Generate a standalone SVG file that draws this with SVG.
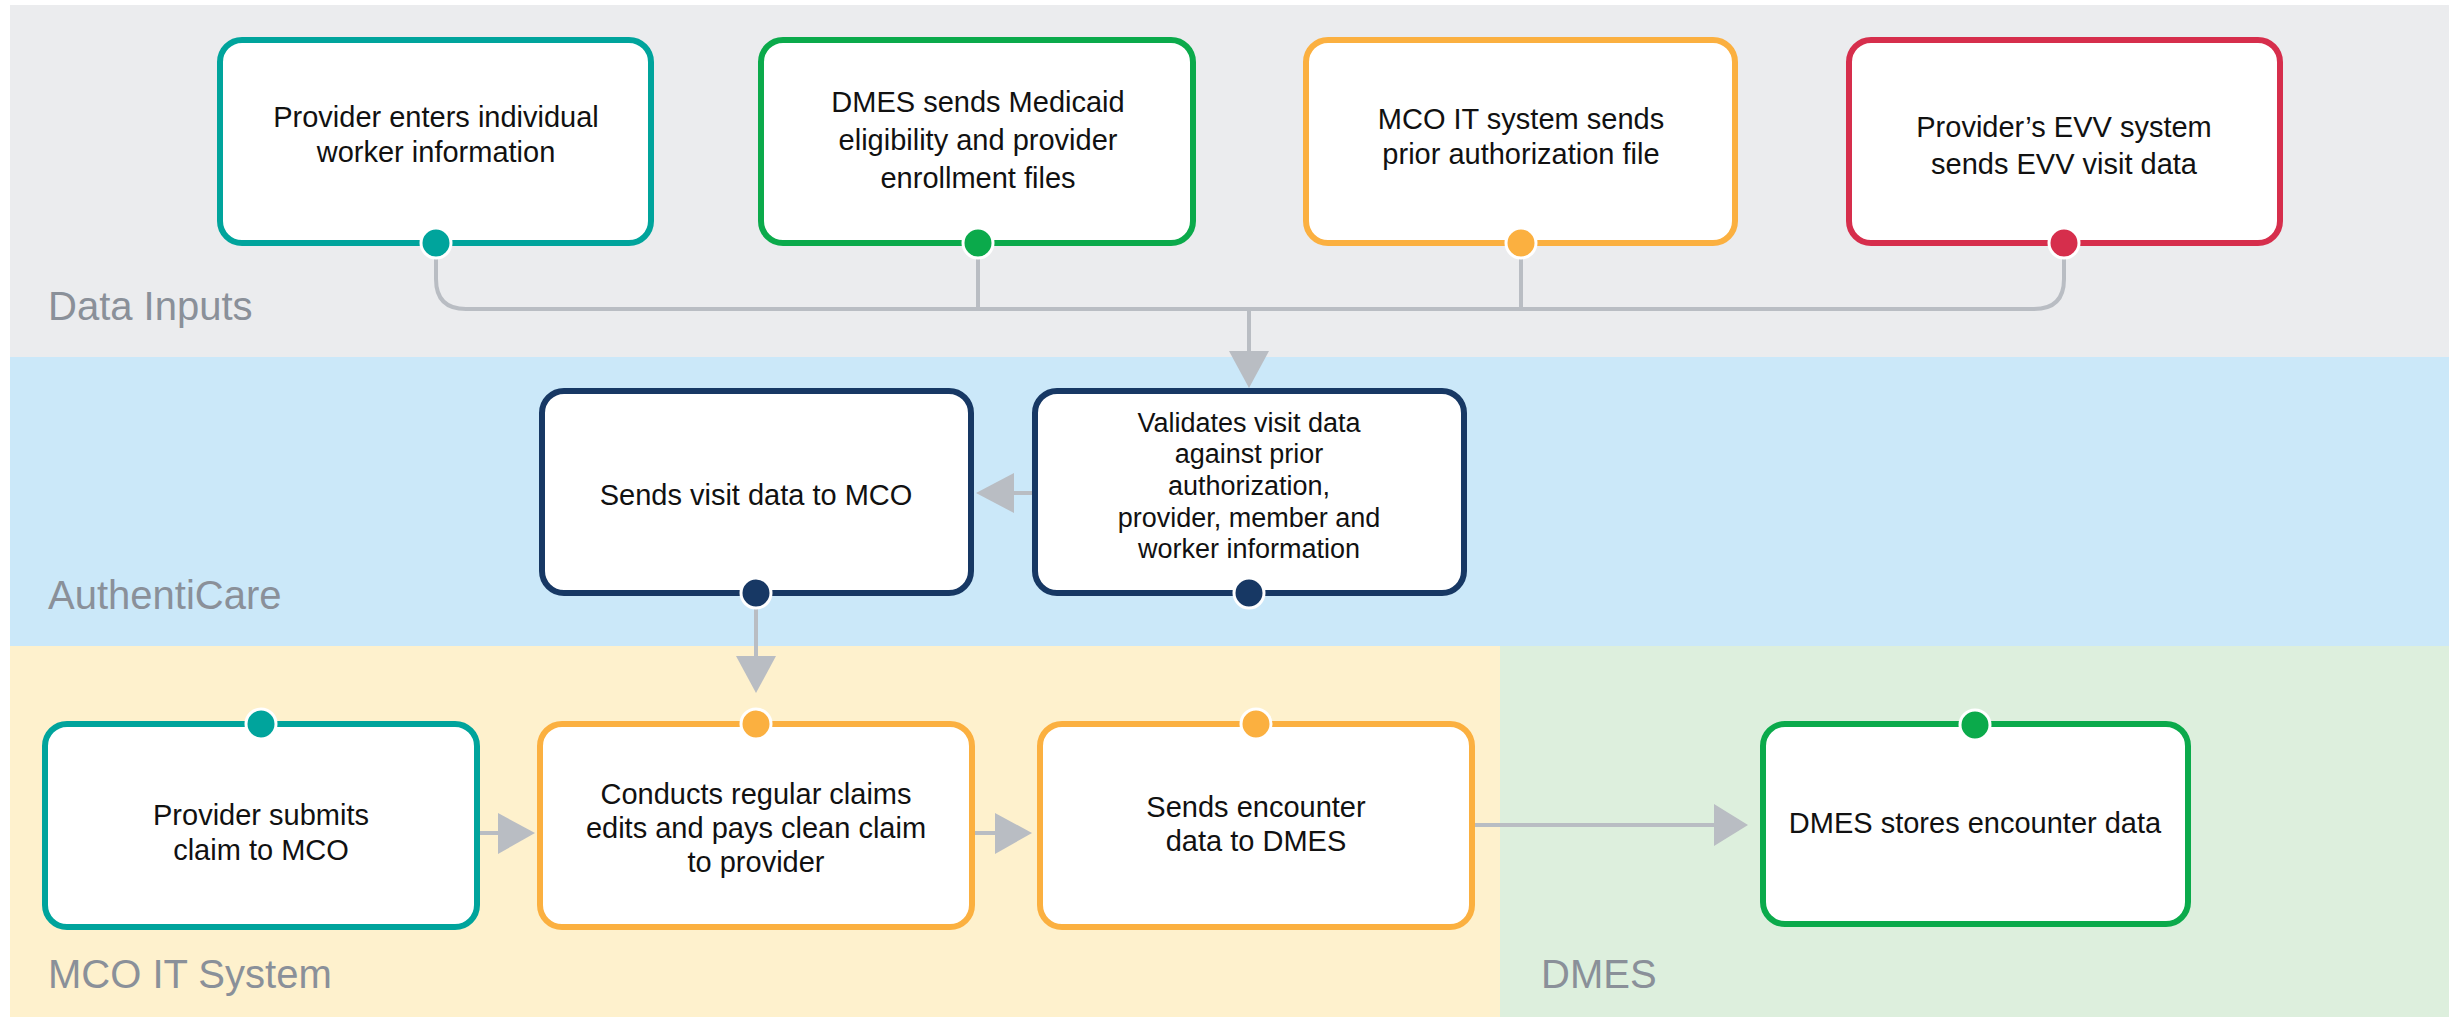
<svg xmlns="http://www.w3.org/2000/svg" width="2453" height="1017" viewBox="0 0 2453 1017">
<style>
.box{fill:#fff;stroke-width:6}
.t{font-family:"Liberation Sans",Arial,sans-serif;font-size:29px;fill:#111;text-anchor:middle}
.ts{font-size:27px}
.lbl{font-family:"Liberation Sans",Arial,sans-serif;font-size:40px;fill:#8A9099}
.dot{stroke:#fff;stroke-width:3}
.ln{fill:none;stroke:#B9BDC3;stroke-width:4}
.ah{fill:#B9BDC3}
.teal{stroke:#00A49C}.tealf{fill:#00A49C}
.grn{stroke:#0BAA4B}.grnf{fill:#0BAA4B}
.org{stroke:#FBB040}.orgf{fill:#FBB040}
.red{stroke:#D62E4C}.redf{fill:#D62E4C}
.nav{stroke:#173864}.navf{fill:#173864}
</style>
<rect width="2453" height="1017" fill="#fff"/>
<g id="lanes">
<rect x="10" y="5" width="2439" height="352" fill="#EBECEE"/>
<rect x="10" y="357" width="2439" height="289" fill="#CBE8F9"/>
<rect x="10" y="646" width="1490" height="371" fill="#FEF1CD"/>
<rect x="1500" y="646" width="949" height="371" fill="#DDEFDD"/>
<text class="lbl" x="48" y="320">Data Inputs</text>
<text class="lbl" x="48" y="609">AuthentiCare</text>
<text class="lbl" x="48" y="988">MCO IT System</text>
<text class="lbl" x="1541" y="988">DMES</text>
</g>
<g id="connectors">
<path class="ln" d="M436,258 V279 Q436,309 466,309 H2034 Q2064,309 2064,279 V258"/>
<path class="ln" d="M978,258 V309 M1521,258 V309 M1249,309 V353"/>
<polygon class="ah" points="1229,351 1269,351 1249,388"/>
<path class="ln" d="M1032,493 H1012"/>
<polygon class="ah" points="1014,473 1014,513 976,493"/>
<path class="ln" d="M756,608 V658"/>
<polygon class="ah" points="736,656 776,656 756,693"/>
<path class="ln" d="M480,833 H500"/>
<polygon class="ah" points="498,813 498,854 535,833"/>
<path class="ln" d="M975,833 H997"/>
<polygon class="ah" points="995,813 995,854 1032,833"/>
<path class="ln" d="M1475,825 H1716"/>
<polygon class="ah" points="1714,804 1714,846 1748,825"/>
</g>
<g id="n1">
<rect class="box teal" x="220" y="40" width="431" height="203" rx="22"/>
<text class="t" x="436" y="127">Provider enters individual</text>
<text class="t" x="436" y="162">worker information</text>
<circle class="dot tealf" cx="436" cy="243" r="15"/>
</g>
<g id="n2">
<rect class="box grn" x="761" y="40" width="432" height="203" rx="22"/>
<text class="t" x="978" y="112">DMES sends Medicaid</text>
<text class="t" x="978" y="150">eligibility and provider</text>
<text class="t" x="978" y="188">enrollment files</text>
<circle class="dot grnf" cx="978" cy="243" r="15"/>
</g>
<g id="n3">
<rect class="box org" x="1306" y="40" width="429" height="203" rx="22"/>
<text class="t" x="1521" y="129">MCO IT system sends</text>
<text class="t" x="1521" y="164">prior authorization file</text>
<circle class="dot orgf" cx="1521" cy="243" r="15"/>
</g>
<g id="n4">
<rect class="box red" x="1849" y="40" width="431" height="203" rx="22"/>
<text class="t" x="2064" y="137">Provider’s EVV system</text>
<text class="t" x="2064" y="174">sends EVV visit data</text>
<circle class="dot redf" cx="2064" cy="243" r="15"/>
</g>
<g id="n5">
<rect class="box nav" x="542" y="391" width="429" height="202" rx="22"/>
<text class="t" x="756" y="505">Sends visit data to MCO</text>
<circle class="dot navf" cx="756" cy="593" r="15"/>
</g>
<g id="n6">
<rect class="box nav" x="1035" y="391" width="429" height="202" rx="22"/>
<text class="t ts" x="1249" y="432">Validates visit data</text>
<text class="t ts" x="1249" y="463">against prior</text>
<text class="t ts" x="1249" y="495">authorization,</text>
<text class="t ts" x="1249" y="527">provider, member and</text>
<text class="t ts" x="1249" y="558">worker information</text>
<circle class="dot navf" cx="1249" cy="593" r="15"/>
</g>
<g id="n7">
<rect class="box teal" x="45" y="724" width="432" height="203" rx="22"/>
<text class="t" x="261" y="825">Provider submits</text>
<text class="t" x="261" y="860">claim to MCO</text>
<circle class="dot tealf" cx="261" cy="724" r="15"/>
</g>
<g id="n8">
<rect class="box org" x="540" y="724" width="432" height="203" rx="22"/>
<text class="t" x="756" y="804">Conducts regular claims</text>
<text class="t" x="756" y="838">edits and pays clean claim</text>
<text class="t" x="756" y="872">to provider</text>
<circle class="dot orgf" cx="756" cy="724" r="15"/>
</g>
<g id="n9">
<rect class="box org" x="1040" y="724" width="432" height="203" rx="22"/>
<text class="t" x="1256" y="817">Sends encounter</text>
<text class="t" x="1256" y="851">data to DMES</text>
<circle class="dot orgf" cx="1256" cy="724" r="15"/>
</g>
<g id="n10">
<rect class="box grn" x="1763" y="724" width="425" height="200" rx="22"/>
<text class="t" x="1975" y="833">DMES stores encounter data</text>
<circle class="dot grnf" cx="1975" cy="725" r="15"/>
</g>
</svg>
